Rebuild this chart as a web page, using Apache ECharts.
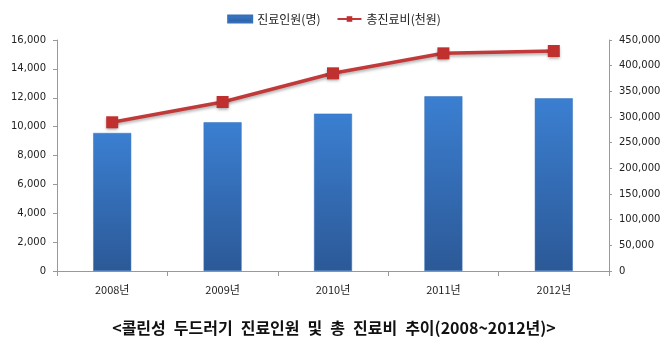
<!DOCTYPE html>
<html>
<head>
<meta charset="utf-8">
<script src="https://cdn.jsdelivr.net/npm/echarts@6/dist/echarts.min.js"></script>
<style>
  html, body { margin: 0; padding: 0; background: #fff; }
  #chart { width: 668px; height: 344px; }
</style>
</head>
<body>
<div id="chart"></div>
<script>
// Years on the x axis
const years = ['2008년', '2009년', '2010년', '2011년', '2012년'];
// Number of patients treated (명), left axis
const patients = [9560, 10300, 10900, 12100, 11960];
// Total treatment cost (천원), right axis
const totalCost = [289700, 329200, 385100, 424000, 428600];
// Axis ranges
const leftAxis = { min: 0, max: 16000, interval: 2000 };
const rightAxis = { min: 0, max: 450000, interval: 50000 };
// Caption under the chart (en spaces keep the word gaps wide)
const caption = '<콜린성\u2002두드러기\u2002진료인원\u2002및\u2002총\u2002진료비\u2002추이(2008~2012년)>';

const chart = echarts.init(document.getElementById('chart'));
const axisFont = { fontFamily: 'DejaVu Sans', fontSize: 10, color: '#222' };
const axisLine = { show: true, lineStyle: { color: '#999', width: 1 } };

chart.setOption({
  animation: false,
  textStyle: { fontFamily: 'Noto Sans CJK KR' },
  title: {
    text: caption,
    left: 'center',
    bottom: 3,
    textStyle: { fontFamily: 'Noto Sans CJK KR', fontSize: 16, fontWeight: 'bold', color: '#111' }
  },
  legend: {
    top: 8,
    left: 'center',
    itemGap: 16,
    itemWidth: 24,
    itemHeight: 7,
    textStyle: { fontFamily: 'Noto Sans CJK KR', fontSize: 12, color: '#222' },
    data: [
      { name: '진료인원(명)', icon: 'rect' },
      { name: '총진료비(천원)' }
    ]
  },
  grid: { left: 57, right: 59, top: 40, bottom: 73 },
  xAxis: {
    type: 'category',
    data: years,
    axisLine: axisLine,
    axisTick: { show: true, length: 5, lineStyle: { color: '#999' } },
    axisLabel: { fontFamily: 'Noto Sans CJK KR', fontSize: 11, color: '#222', margin: 13 }
  },
  yAxis: [
    {
      type: 'value',
      min: leftAxis.min, max: leftAxis.max, interval: leftAxis.interval,
      axisLine: axisLine,
      axisTick: { show: true, length: 4, lineStyle: { color: '#999' } },
      splitLine: { show: false },
      axisLabel: { ...axisFont, margin: 11, formatter: v => v.toLocaleString('en-US') }
    },
    {
      type: 'value',
      min: rightAxis.min, max: rightAxis.max, interval: rightAxis.interval,
      axisLine: axisLine,
      axisTick: { show: true, length: 3, lineStyle: { color: '#999' } },
      splitLine: { show: false },
      axisLabel: { ...axisFont, margin: 10, formatter: v => v.toLocaleString('en-US') }
    }
  ],
  series: [
    {
      name: '진료인원(명)',
      type: 'bar',
      yAxisIndex: 0,
      barWidth: 38,
      data: patients,
      itemStyle: {
        color: new echarts.graphic.LinearGradient(0, 0, 0, 1, [
          { offset: 0, color: '#3b7fd1' },
          { offset: 1, color: '#2c5997' }
        ]),
        borderColor: '#3470bb',
        borderWidth: 0.5
      }
    },
    {
      name: '총진료비(천원)',
      type: 'line',
      yAxisIndex: 1,
      data: totalCost,
      symbol: 'rect',
      symbolSize: 12,
      lineStyle: { color: '#c2393a', width: 3.5, shadowColor: 'rgba(0,0,0,0.3)', shadowBlur: 3, shadowOffsetY: 2 },
      itemStyle: { color: '#c0302f', shadowColor: 'rgba(0,0,0,0.35)', shadowBlur: 3, shadowOffsetY: 2 }
    }
  ]
});
</script>
</body>
</html>
